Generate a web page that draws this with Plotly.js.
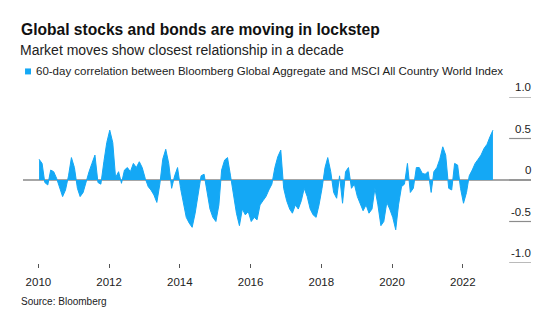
<!DOCTYPE html>
<html>
<head>
<meta charset="utf-8">
<script src="https://cdn.plot.ly/plotly-3.0.1.min.js"></script>
<style>html,body{margin:0;padding:0;background:#fff;}#chart{width:556px;height:332px;}</style>
</head>
<body>
<div id="chart"></div>
<script>
// 60-day correlation, one reading per month (Jan..Dec)
const corr2010 = [0.25, 0.2, -0.03, -0.06, 0.12, 0.1, 0.02, -0.1, -0.2, -0.12, 0.05, 0.27];
const corr2011 = [0.15, -0.1, -0.2, -0.15, -0.02, 0.1, 0.2, 0.3, -0.03, -0.05, 0.22, 0.45];
const corr2012 = [0.6, 0.45, 0.03, 0.1, -0.04, 0.12, 0.15, 0.1, 0.2, 0.15, 0.22, 0.15];
const corr2013 = [0.02, -0.08, -0.12, -0.18, -0.27, -0.05, 0.25, 0.37, 0.2, -0.1, 0.05, 0.15];
const corr2014 = [-0.1, -0.3, -0.45, -0.52, -0.57, -0.4, -0.15, 0.05, 0.07, -0.15, -0.35, -0.45];
const corr2015 = [-0.5, -0.3, 0.12, 0.24, 0.27, 0.05, -0.2, -0.4, -0.55, -0.35, -0.42, -0.38];
const corr2016 = [-0.5, -0.45, -0.48, -0.3, -0.25, -0.2, -0.12, -0.05, 0.15, 0.28, 0.36, -0.1];
const corr2017 = [-0.25, -0.35, -0.4, -0.3, -0.35, -0.25, -0.1, -0.2, -0.35, -0.42, -0.45, -0.3];
const corr2018 = [-0.1, 0.15, 0.27, 0.1, -0.15, -0.22, 0.05, -0.28, 0.1, 0.15, -0.1, -0.05];
const corr2019 = [-0.2, -0.3, -0.37, -0.3, -0.4, -0.35, -0.1, -0.3, -0.55, -0.5, -0.27, -0.35];
const corr2020 = [-0.45, -0.6, -0.3, -0.08, -0.05, 0.2, -0.15, -0.1, 0.15, 0.15, 0.08, 0.07];
const corr2021 = [0.1, -0.15, 0.1, 0.15, 0.25, 0.4, 0.3, -0.1, -0.12, 0.2, 0.18, -0.1];
const corr2022 = [-0.28, -0.15, 0.05, 0.12, 0.2, 0.25, 0.3, 0.38, 0.43, 0.52, 0.6];

const years = [2010, 2011, 2012, 2013, 2014, 2015, 2016, 2017, 2018, 2019, 2020, 2021, 2022];
const yearSeries = [corr2010, corr2011, corr2012, corr2013, corr2014, corr2015, corr2016,
                    corr2017, corr2018, corr2019, corr2020, corr2021, corr2022];

const yTickVals = [-1, -0.5, 0, 0.5, 1];
const yTickText = ['-1.0', '-0.5', '0', '0.5', '1.0'];

const titleText = 'Global stocks and bonds are moving in lockstep';
const subtitleText = 'Market moves show closest relationship in a decade';
const legendText = '60-day correlation between Bloomberg Global Aggregate and MSCI All Country World Index';
const sourceText = 'Source: Bloomberg';

const dates = [], vals = [];
years.forEach((yr, i) => {
  yearSeries[i].forEach((v, m) => {
    dates.push(yr + '-' + String(m + 1).padStart(2, '0') + '-08');
    vals.push(v);
  });
});

const BLUE = '#14A8F5';
const FONT = 'Liberation Sans, Arial, sans-serif';

const trace = {
  type: 'scatter',
  mode: 'lines',
  x: dates,
  y: vals,
  fill: 'tozeroy',
  fillcolor: BLUE,
  line: {color: BLUE, width: 1},
  name: legendText,
  showlegend: false,
  hoverinfo: 'x+y'
};

const stubShapes = yTickVals.map(v => ({
  type: 'line', xref: 'paper', yref: 'y',
  x0: 0.957, x1: 1, y0: v, y1: v,
  line: {color: '#8c8c8c', width: 1.2}
}));

const yLabelAnns = yTickVals.map((v, i) => ({
  text: yTickText[i], xref: 'paper', yref: 'y', x: 1.004, y: v,
  xanchor: 'right', yanchor: 'middle', yshift: 10, showarrow: false,
  font: {family: FONT, size: 11.5, color: '#222'}
}));

const layout = {
  width: 556, height: 332,
  margin: {l: 23, r: 25, t: 97, b: 69, pad: 0},
  paper_bgcolor: '#fff', plot_bgcolor: '#fff',
  font: {family: FONT, color: '#222', size: 11.5},
  title: {
    text: titleText,
    xref: 'container', yref: 'container',
    x: 21 / 556, xanchor: 'left',
    y: 1 - 29.5 / 332, yanchor: 'middle',
    font: {family: FONT, size: 15.6, weight: 'bold', color: '#111'}
  },
  xaxis: {
    type: 'date',
    range: ['2009-07-26', '2023-12-06'],
    tick0: '2010-01-01', dtick: 'M24',
    tickformat: '%Y',
    ticks: 'outside', ticklen: 4, tickwidth: 1, tickcolor: '#555',
    showgrid: false, zeroline: false, showline: false,
    tickfont: {family: FONT, size: 11.5, color: '#222'},
    ticklabelstandoff: 4
  },
  yaxis: {
    range: [-1, 1],
    side: 'right',
    tickvals: yTickVals,
    ticks: '',
    showticklabels: false,
    showgrid: false,
    zeroline: true, zerolinecolor: '#a6a6a6', zerolinewidth: 2,
    showline: false
  },
  shapes: stubShapes.concat([{
    type: 'rect', xref: 'paper', yref: 'paper',
    x0: 0.004, x1: 0.0157, y0: 1.136, y1: 1.172,
    fillcolor: BLUE, line: {width: 0}
  }]),
  annotations: yLabelAnns.concat([
    {text: subtitleText, xref: 'paper', yref: 'paper', x: -0.0098, y: 1.283,
     xanchor: 'left', yanchor: 'middle', showarrow: false,
     font: {family: FONT, size: 14, color: '#222'}},
    {text: legendText, xref: 'paper', yref: 'paper', x: 0.022, y: 1.154,
     xanchor: 'left', yanchor: 'middle', showarrow: false,
     font: {family: FONT, size: 11.5, color: '#222'}},
    {text: sourceText, xref: 'paper', yref: 'paper', x: -0.008, y: -0.232,
     xanchor: 'left', yanchor: 'middle', showarrow: false,
     font: {family: FONT, size: 10, color: '#222'}}
  ])
};

Plotly.newPlot('chart', [trace], layout, {staticPlot: true, displayModeBar: false});
</script>
</body>
</html>
